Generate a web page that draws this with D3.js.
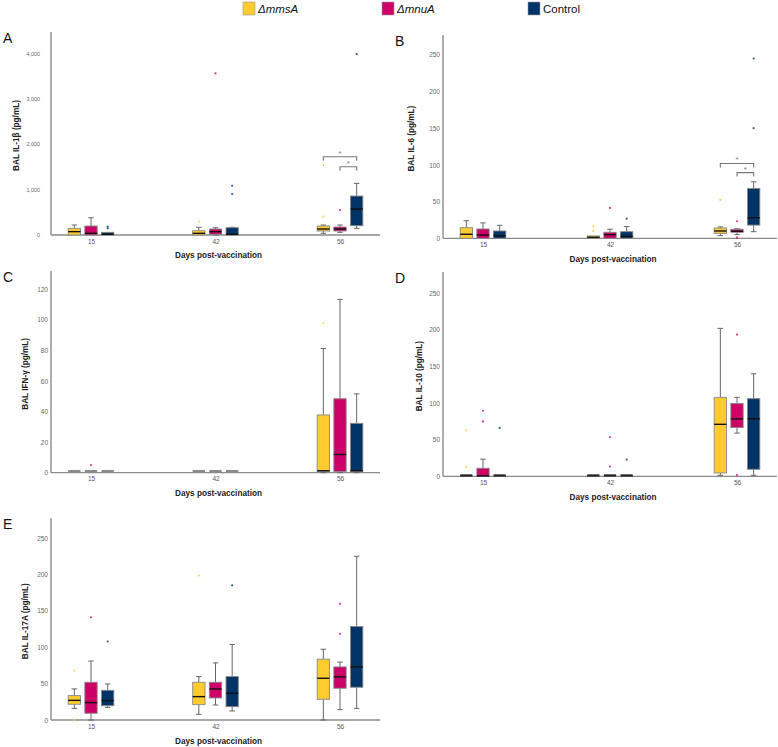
<!DOCTYPE html>
<html>
<head>
<meta charset="utf-8">
<script src="https://cdn.jsdelivr.net/npm/d3@7"></script>
<style>
  body { margin: 0; background: #fff; }
  svg { display: block; font-family: "Liberation Sans", Arial, sans-serif; }
</style>
</head>
<body>
<svg id="canvas"></svg>
<script>
let width = 778
let height = 747

let days = ['15', '42', '56']
let groups = ['mmsA', 'mnuA', 'Control']
let groupLabels = ['ΔmmsA', 'ΔmnuA', 'Control']
let colors = ['#FFCB2F', '#CC0066', '#003366']

// box stats per day, per group: [whiskerLow, q1, median, q3, whiskerHigh]
let il1bStats = [
    [[0, 0, 74, 147, 220], [0, 0, 37, 198, 380], [0, 0, 15, 59, 59]],
    [[0, 0, 37, 95, 169], [0, 15, 73, 132, 161], [0, 0, 15, 161, 169]],
    [[37, 88, 132, 198, 220], [59, 88, 132, 176, 220], [147, 205, 572, 858, 1137]]
]
let il1bOutliers = [
    [[], [], [183, 147]],
    [[293], [3557], [1085, 902]],
    [[1540, 403], [550], [3982]]
]
let il6Stats = [
    [[0, 0, 5.5, 14.5, 24], [0, 0, 4.5, 12.7, 21], [0, 0, 3.6, 10, 17.7]],
    [[0, 0, 1.4, 3.2, 3.2], [0, 0, 5, 8.2, 12.3], [0, 0, 2.7, 9, 16]],
    [[3.6, 6.8, 10, 14, 15.5], [5, 8.2, 9.5, 12.3, 13], [9, 18, 28, 68, 77]]
]
let il6Outliers = [
    [[], [], []],
    [[16.4, 10], [41.4], [26.8]],
    [[52.3], [23.2, 0.9], [245, 150]]
]
let ifngStats = [
    [[1, 1, 1, 1, 1], [1, 1, 1, 1, 1], [1, 1, 1, 1, 1]],
    [[1, 1, 1, 1, 1], [1, 1, 1, 1, 1], [1, 1, 1, 1, 1]],
    [[0, 0.7, 1.3, 37.8, 81.3], [0, 0.7, 11.9, 48.4, 113.4], [0, 0.7, 1.3, 32.3, 51.6]]
]
let ifngOutliers = [
    [[], [5], []],
    [[], [], []],
    [[97.8], [], []]
]
let il10Stats = [
    [[1, 1, 1, 1, 1], [0, 0, 0.5, 11, 23.4], [1, 1, 1, 1, 1]],
    [[1, 1, 1, 1, 1], [1, 1, 1, 1, 1], [1, 1, 1, 1, 1]],
    [[1.4, 4.6, 71, 107.8, 202], [59, 66.5, 78.4, 99.5, 107.8], [1.4, 9.6, 78.4, 106, 140]]
]
let il10Outliers = [
    [[62.7, 13], [89.5, 75], [66]],
    [[], [53.7, 13.3], [22.9]],
    [[], [193.6, 1.8], []]
]
let il17Stats = [
    [[16, 21.6, 27, 33.5, 42.7], [0, 9.2, 23.9, 51.8, 81], [17.4, 19.7, 26.6, 40.8, 49.5]],
    [[7.8, 21.1, 32.1, 51.8, 59.6], [20.6, 30.3, 42.7, 51.8, 78.4], [12.4, 18.3, 36.7, 59.6, 103.7]],
    [[0, 28.4, 57.3, 83.5, 97.2], [14.2, 43.6, 59.2, 72.9, 79.4], [16, 45, 72.9, 128.4, 224.8]]
]
let il17Outliers = [
    [[67.9, 0], [141], [107.8]],
    [[198.6], [], [184.9]],
    [[], [159.6, 118.3], []]
]
// significance brackets on day 56: [fromGroup, toGroup, level]
let il1bBrackets = [[0, 2, 1722], [1, 2, 1503]]
let il6Brackets = [[0, 2, 102], [1, 2, 89.5]]

let panels = [
    { letter: 'A', title: 'BAL IL-1β (pg/mL)', stats: il1bStats, outliers: il1bOutliers, brackets: il1bBrackets,
      yMax: 4470, ticks: [0, 1000, 2000, 3000, 4000], fmt: d3.format(','), flat: '#333',
      tickFont: 5.4, tickPad: 11, titleX: 16,
      x0: 51, x1: 380, top: 32, bottom: 235, labelY: 244, titleY: 258 },
    { letter: 'B', title: 'BAL IL-6 (pg/mL)', stats: il6Stats, outliers: il6Outliers, brackets: il6Brackets,
      yMax: 277, ticks: [0, 50, 100, 150, 200, 250], fmt: d3.format('d'), flat: '#333',
      tickFont: 6.5, tickPad: 3, titleX: 411,
      x0: 443, x1: 777, top: 35, bottom: 238.3, labelY: 248, titleY: 262 },
    { letter: 'C', title: 'BAL IFN-γ (pg/mL)', stats: ifngStats, outliers: ifngOutliers, brackets: [],
      yMax: 132, ticks: [0, 20, 40, 60, 80, 100, 120], fmt: d3.format('d'), flat: '#8a8a8a',
      tickFont: 6.5, tickPad: 3, titleX: 25,
      x0: 51, x1: 380, top: 271, bottom: 472.7, labelY: 484.5, titleY: 496 },
    { letter: 'D', title: 'BAL IL-10 (pg/mL)', stats: il10Stats, outliers: il10Outliers, brackets: [],
      yMax: 279, ticks: [0, 50, 100, 150, 200, 250], fmt: d3.format('d'), flat: '#222',
      tickFont: 6.5, tickPad: 3, titleX: 419,
      x0: 443, x1: 777, top: 272, bottom: 476.3, labelY: 485.5, titleY: 500 },
    { letter: 'E', title: 'BAL IL-17A (pg/mL)', stats: il17Stats, outliers: il17Outliers, brackets: [],
      yMax: 277, ticks: [0, 50, 100, 150, 200, 250], fmt: d3.format('d'), flat: '#333',
      tickFont: 6.5, tickPad: 3, titleX: 25,
      x0: 51, x1: 380, top: 518.3, bottom: 720, labelY: 733.5, titleY: 744 }
]

let canvas = d3.select('#canvas')
canvas.attr('width', width).attr('height', height)

let drawLegend = () => {
    let lx = [243, 382, 528]
    let legend = canvas.append('g')
    groups.forEach((g, i) => {
        legend.append('rect')
            .attr('x', lx[i]).attr('y', 2)
            .attr('width', 12).attr('height', 13)
            .attr('fill', colors[i])
            .attr('stroke', '#999').attr('stroke-width', 0.6)
        legend.append('text')
            .attr('x', lx[i] + 15).attr('y', 13)
            .attr('font-size', 11.5)
            .attr('fill', '#111')
            .style('font-style', i < 2 ? 'italic' : 'normal')
            .text(groupLabels[i])
    })
}

let drawPanel = (p) => {
    let g = canvas.append('g')
    let yScale = d3.scaleLinear().domain([0, p.yMax]).range([p.bottom, p.top])
    let xScale = d3.scalePoint().domain(days).range([p.x0 + 40, p.x1 - 40])
    let gScale = d3.scaleBand().domain(groups).range([-25, 25])
    let boxW = 12.3
    let capW = 5.5

    // panel letter
    g.append('text')
        .attr('x', p.x0 - 48).attr('y', p.top + 11)
        .attr('font-size', 14).attr('fill', '#111')
        .text(p.letter)

    // y axis
    let yAxis = d3.axisLeft(yScale).tickValues(p.ticks).tickFormat(p.fmt).tickSize(0).tickPadding(p.tickPad)
    let ya = g.append('g')
        .attr('transform', 'translate(' + p.x0 + ',0)')
        .attr('color', '#666')
        .call(yAxis)
    ya.select('.domain').remove()
    ya.selectAll('text').attr('font-size', p.tickFont).attr('fill', '#666').attr('font-family', '"Liberation Sans", Arial, sans-serif')

    g.append('line')
        .attr('x1', p.x0).attr('x2', p.x0)
        .attr('y1', p.top).attr('y2', p.bottom)
        .attr('stroke', '#999').attr('stroke-width', 1.6)

    // x axis
    let xAxis = d3.axisBottom(xScale).tickSize(0).tickPadding(4)
    let xa = g.append('g')
        .attr('transform', 'translate(0,' + p.bottom + ')')
        .attr('color', '#555')
        .call(xAxis)
    xa.select('.domain').remove()
    xa.selectAll('text').attr('font-size', 6.5).attr('fill', '#555').attr('font-family', '"Liberation Sans", Arial, sans-serif')

    g.append('line')
        .attr('x1', p.x0).attr('x2', p.x1)
        .attr('y1', p.bottom).attr('y2', p.bottom)
        .attr('stroke', '#8a8a8a').attr('stroke-width', 1.3)

    // titles
    g.append('text')
        .attr('x', (p.x0 + p.x1) / 2 + 3).attr('y', p.titleY)
        .attr('text-anchor', 'middle')
        .attr('font-size', 8.2).attr('font-weight', 'bold').attr('fill', '#222')
        .text('Days post-vaccination')
    g.append('text')
        .attr('transform', 'translate(' + (p.titleX + 3) + ',' + ((p.top + p.bottom) / 2 + 2) + ') rotate(-90)')
        .attr('text-anchor', 'middle')
        .attr('font-size', 8.2).attr('font-weight', 'bold').attr('fill', '#222')
        .text(p.title)

    // boxes
    days.forEach((day, di) => {
        groups.forEach((grp, gi) => {
            let s = p.stats[di][gi]
            let cx = xScale(day) + gScale(grp) + gScale.bandwidth() / 2
            let bg = g.append('g')
            if (s[1] === s[3]) {
                bg.append('rect')
                    .attr('x', cx - boxW / 2).attr('width', boxW)
                    .attr('y', yScale(s[2]) - 1.2).attr('height', 2.2)
                    .attr('fill', p.flat)
            } else {
                if (s[4] > s[3]) {
                    bg.append('line')
                        .attr('x1', cx).attr('x2', cx)
                        .attr('y1', yScale(s[4])).attr('y2', yScale(s[3]))
                        .attr('stroke', '#666').attr('stroke-width', 1)
                    bg.append('line')
                        .attr('x1', cx - capW / 2).attr('x2', cx + capW / 2)
                        .attr('y1', yScale(s[4])).attr('y2', yScale(s[4]))
                        .attr('stroke', '#666').attr('stroke-width', 1)
                }
                if (s[0] < s[1]) {
                    bg.append('line')
                        .attr('x1', cx).attr('x2', cx)
                        .attr('y1', yScale(s[1])).attr('y2', yScale(s[0]))
                        .attr('stroke', '#666').attr('stroke-width', 1)
                    bg.append('line')
                        .attr('x1', cx - capW / 2).attr('x2', cx + capW / 2)
                        .attr('y1', yScale(s[0])).attr('y2', yScale(s[0]))
                        .attr('stroke', '#666').attr('stroke-width', 1)
                }
                bg.append('rect')
                    .attr('x', cx - boxW / 2).attr('width', boxW)
                    .attr('y', yScale(s[3])).attr('height', yScale(s[1]) - yScale(s[3]))
                    .attr('fill', colors[gi])
                    .attr('stroke', '#888').attr('stroke-width', 0.9)
                bg.append('line')
                    .attr('x1', cx - boxW / 2).attr('x2', cx + boxW / 2)
                    .attr('y1', yScale(s[2])).attr('y2', yScale(s[2]))
                    .attr('stroke', '#111').attr('stroke-width', 1.4)
            }
            bg.selectAll('circle')
                .data(p.outliers[di][gi])
                .enter()
                .append('circle')
                .attr('cx', cx)
                .attr('cy', (v) => yScale(v))
                .attr('r', 1.1)
                .attr('fill', colors[gi])
                .attr('opacity', 0.78)
        })
    })

    // significance brackets
    p.brackets.forEach((b) => {
        let xa0 = xScale('56') + gScale(groups[b[0]]) + gScale.bandwidth() / 2
        let xa1 = xScale('56') + gScale(groups[b[1]]) + gScale.bandwidth() / 2
        let yb = yScale(b[2])
        g.append('path')
            .attr('d', 'M' + xa0 + ',' + (yb + 4) + 'V' + yb + 'H' + xa1 + 'V' + (yb + 4))
            .attr('fill', 'none').attr('stroke', '#777').attr('stroke-width', 1.1)
        g.append('text')
            .attr('x', (xa0 + xa1) / 2).attr('y', yb - 1)
            .attr('text-anchor', 'middle')
            .attr('font-size', 8).attr('fill', '#777')
            .text('*')
    })
}

drawLegend()
panels.forEach(drawPanel)
</script>
</body>
</html>
